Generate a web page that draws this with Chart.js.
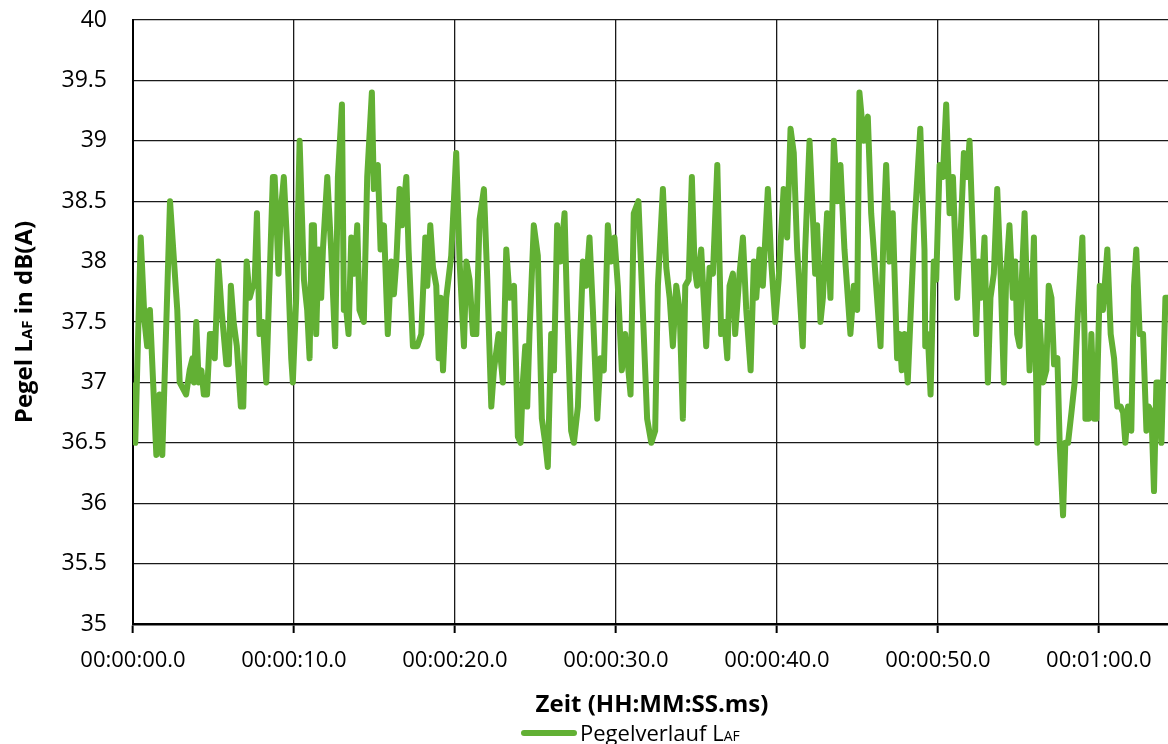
<!DOCTYPE html>
<html>
<head>
<meta charset="utf-8">
<script src="https://cdn.jsdelivr.net/npm/chart.js@4.4.1/dist/chart.umd.min.js"></script>
<style>
    html, body { margin: 0; padding: 0; background: #fff; }
    #wrap { width: 1168px; height: 744px; }
</style>
</head>
<body>
<div id="wrap"><canvas id="chart" width="1168" height="744"></canvas></div>
<script>
// --- Data ---
// time in seconds, level in dB(A)
const times = [
    0.00, 0.14, 0.48, 0.72, 0.88, 1.05, 1.45, 1.65, 1.82, 2.30,
    2.75, 2.90, 3.30, 3.52, 3.70, 3.79, 3.93, 4.08, 4.25, 4.40,
    4.60, 4.78, 4.98, 5.08, 5.30, 5.50, 5.80, 5.95, 6.08, 6.25,
    6.45, 6.70, 6.85, 7.06, 7.25, 7.45, 7.55, 7.70, 7.86, 8.07,
    8.28, 8.69, 8.80, 8.90, 9.04, 9.17, 9.37, 9.59, 9.83, 9.93,
    10.14, 10.35, 10.62, 10.82, 10.97, 11.11, 11.24, 11.38, 11.53, 11.69,
    11.80, 12.07, 12.31, 12.56, 12.73, 12.98, 13.10, 13.25, 13.39, 13.56,
    13.76, 13.93, 14.07, 14.34, 14.55, 14.84, 14.96, 15.21, 15.38, 15.59,
    15.83, 16.05, 16.21, 16.36, 16.56, 16.71, 16.98, 17.12, 17.39, 17.66,
    17.91, 18.16, 18.28, 18.47, 18.64, 18.84, 18.99, 19.11, 19.26, 19.46,
    19.77, 20.08, 20.29, 20.56, 20.71, 20.91, 21.12, 21.33, 21.53, 21.80,
    22.01, 22.26, 22.42, 22.71, 22.98, 23.19, 23.40, 23.67, 23.91, 24.08,
    24.22, 24.37, 24.49, 24.63, 24.90, 25.15, 25.40, 25.61, 25.77, 25.98,
    26.15, 26.35, 26.56, 26.81, 26.97, 27.22, 27.39, 27.64, 27.95, 28.15,
    28.36, 28.57, 28.84, 29.04, 29.25, 29.50, 29.71, 29.91, 30.12, 30.37,
    30.58, 30.91, 31.11, 31.40, 31.67, 31.94, 32.20, 32.44, 32.61, 32.92,
    33.13, 33.34, 33.54, 33.75, 33.96, 34.16, 34.31, 34.52, 34.72, 34.89,
    35.05, 35.30, 35.61, 35.82, 36.03, 36.30, 36.54, 36.75, 36.92, 37.06,
    37.27, 37.41, 37.68, 37.89, 38.10, 38.37, 38.57, 38.72, 38.93, 39.13,
    39.44, 39.65, 39.90, 40.11, 40.42, 40.64, 40.85, 41.05, 41.26, 41.61,
    41.76, 42.03, 42.23, 42.38, 42.50, 42.71, 42.86, 43.12, 43.33, 43.54,
    43.75, 43.95, 44.20, 44.57, 44.78, 44.99, 45.13, 45.40, 45.65, 45.86,
    46.17, 46.44, 46.64, 46.79, 47.00, 47.20, 47.47, 47.62, 47.76, 47.93,
    48.13, 48.55, 48.91, 49.17, 49.22, 49.38, 49.55, 49.75, 49.90, 50.11,
    50.31, 50.52, 50.73, 50.94, 51.20, 51.41, 51.62, 51.83, 51.97, 52.18,
    52.38, 52.53, 52.70, 52.90, 53.11, 53.27, 53.48, 53.69, 53.90, 54.10,
    54.25, 54.45, 54.66, 54.81, 54.93, 55.08, 55.22, 55.39, 55.55, 55.70,
    55.97, 56.17, 56.33, 56.54, 56.74, 56.89, 57.06, 57.22, 57.43, 57.57,
    57.78, 57.92, 58.09, 58.30, 58.50, 58.71, 58.98, 59.13, 59.17, 59.37,
    59.54, 59.71, 59.85, 60.06, 60.26, 60.53, 60.74, 60.95, 61.15, 61.36,
    61.51, 61.65, 61.82, 62.02, 62.19, 62.33, 62.54, 62.75, 62.96, 63.10,
    63.27, 63.43, 63.58, 63.72, 63.89, 64.14, 64.30
];

const levels = [
    37.0, 36.5, 38.2, 37.5, 37.3, 37.6, 36.4, 36.9, 36.4, 38.5,
    37.6, 37.0, 36.9, 37.1, 37.2, 37.0, 37.5, 37.0, 37.1, 36.9,
    36.9, 37.4, 37.4, 37.2, 38.0, 37.6, 37.15, 37.15, 37.8, 37.5,
    37.3, 36.8, 36.8, 38.0, 37.7, 37.8, 37.8, 38.4, 37.4, 37.5,
    37.0, 38.7, 38.7, 38.4, 37.9, 38.4, 38.7, 38.1, 37.2, 37.0,
    37.7, 39.0, 37.85, 37.6, 37.2, 38.3, 38.3, 37.4, 38.1, 37.7,
    38.1, 38.7, 38.1, 37.3, 38.7, 39.3, 37.6, 37.6, 37.4, 38.2,
    37.9, 38.3, 37.6, 37.5, 38.7, 39.4, 38.6, 38.8, 38.1, 38.3,
    37.4, 38.0, 37.73, 38.0, 38.6, 38.3, 38.7, 38.1, 37.3, 37.3,
    37.4, 38.2, 37.8, 38.3, 37.95, 37.8, 37.2, 37.7, 37.1, 37.7,
    38.05, 38.9, 38.0, 37.3, 38.0, 37.85, 37.4, 37.4, 38.35, 38.6,
    37.85, 36.8, 37.1, 37.4, 37.0, 38.1, 37.7, 37.8, 36.55, 36.5,
    37.0, 37.3, 36.8, 37.4, 38.3, 38.05, 36.7, 36.5, 36.3, 37.4,
    37.1, 38.3, 38.0, 38.4, 37.6, 36.6, 36.5, 36.8, 38.0, 37.8,
    38.2, 37.6, 36.7, 37.2, 37.1, 38.3, 38.0, 38.2, 37.8, 37.1,
    37.4, 36.9, 38.4, 38.5, 37.6, 36.7, 36.5, 36.6, 37.8, 38.6,
    37.95, 37.7, 37.3, 37.8, 37.6, 36.7, 37.8, 37.85, 38.7, 37.95,
    37.8, 38.1, 37.3, 37.95, 37.9, 38.8, 37.4, 37.5, 37.2, 37.8,
    37.9, 37.4, 37.9, 38.2, 37.6, 37.1, 38.0, 37.7, 38.1, 37.8,
    38.6, 38.0, 37.5, 37.85, 38.6, 38.2, 39.1, 38.9, 38.1, 37.3,
    38.1, 39.0, 38.4, 37.9, 38.3, 37.5, 37.7, 38.4, 37.7, 39.0,
    38.5, 38.8, 38.1, 37.4, 37.8, 37.6, 39.4, 39.0, 39.2, 38.4,
    37.8, 37.3, 38.3, 38.8, 38.0, 38.4, 37.2, 37.4, 37.1, 37.4,
    37.0, 38.3, 39.1, 38.1, 37.3, 37.4, 36.9, 38.0, 37.85, 38.8,
    38.7, 39.3, 38.4, 38.7, 37.7, 38.2, 38.9, 38.7, 39.0, 38.2,
    37.4, 38.0, 37.7, 38.2, 37.0, 37.7, 37.9, 38.6, 37.9, 37.0,
    37.9, 38.3, 37.7, 38.0, 37.4, 37.3, 37.85, 38.4, 37.7, 37.1,
    38.2, 36.5, 37.5, 37.0, 37.1, 37.8, 37.7, 37.15, 37.2, 36.5,
    35.9, 36.5, 36.5, 36.75, 37.0, 37.6, 38.2, 37.3, 36.7, 36.7,
    37.4, 36.7, 36.7, 37.8, 37.6, 38.1, 37.4, 37.2, 36.8, 36.8,
    36.75, 36.5, 36.8, 36.6, 37.8, 38.1, 37.4, 37.4, 36.6, 36.8,
    36.75, 36.1, 37.0, 37.0, 36.5, 37.7, 37.7
];

const xTickSeconds = [0, 10, 20, 30, 40, 50, 60];
const xMax = 64.3;
const yMin = 35, yMax = 40, yStep = 0.5;

const LINE_GREEN = '#62B034';
const FONT = "'Open Sans', sans-serif";

// --- Helpers ---
function pad2(n) {
    return String(n).padStart(2, '0');
}

function formatTime(sec) {
    const h = Math.floor(sec / 3600);
    const m = Math.floor((sec % 3600) / 60);
    const s = Math.floor(sec % 60);
    const tenth = Math.round((sec - Math.floor(sec)) * 10);
    return `${pad2(h)}:${pad2(m)}:${pad2(s)}.${tenth}`;
}

// draw "L" + small "AF" style text pieces, returns total width
function drawPieces(ctx, pieces, x, y, measureOnly) {
    let cx = x;
    pieces.forEach(p => {
        ctx.font = p.font;
        if (!measureOnly) ctx.fillText(p.text, cx, y);
        cx += ctx.measureText(p.text).width;
    });
    return cx - x;
}

// --- Titles and legend drawn by hand (mixed font sizes) ---
const labelsPlugin = {
    id: 'labels',
    afterDraw(chart) {
        const ctx = chart.ctx;
        const area = chart.chartArea;
        ctx.save();
        ctx.fillStyle = '#000';
        ctx.textBaseline = 'alphabetic';
        ctx.textAlign = 'left';

        // y axis title
        const yPieces = [
            { text: 'Pegel L', font: `bold 24px ${FONT}` },
            { text: 'AF', font: `bold 15px ${FONT}` },
            { text: ' in dB(A)', font: `bold 24px ${FONT}` }
        ];
        const yw = drawPieces(ctx, yPieces, 0, 0, true);
        ctx.translate(32, (area.top + area.bottom) / 2);
        ctx.rotate(-Math.PI / 2);
        drawPieces(ctx, yPieces, -yw / 2, 0, false);
        ctx.setTransform(1, 0, 0, 1, 0, 0);

        // x axis title
        ctx.font = `bold 24px ${FONT}`;
        ctx.textAlign = 'center';
        ctx.fillText('Zeit (HH:MM:SS.ms)', 652, 712);

        // legend
        ctx.strokeStyle = LINE_GREEN;
        ctx.lineWidth = 6;
        ctx.lineCap = 'round';
        ctx.beginPath();
        ctx.moveTo(524, 733);
        ctx.lineTo(574, 733);
        ctx.stroke();
        ctx.textAlign = 'left';
        drawPieces(ctx, [
            { text: 'Pegelverlauf L', font: `22px ${FONT}` },
            { text: 'AF', font: `14px ${FONT}` }
        ], 580, 741, false);
        ctx.restore();
    }
};

// --- Chart ---
const points = times.map((t, i) => ({ x: t, y: levels[i] }));

new Chart(document.getElementById('chart'), {
    type: 'line',
    data: {
        datasets: [{
            label: 'Pegelverlauf LAF',
            data: points,
            borderColor: LINE_GREEN,
            borderWidth: 6,
            pointRadius: 0,
            tension: 0,
            borderJoinStyle: 'round',
            fill: false
        }]
    },
    options: {
        responsive: false,
        animation: false,
        devicePixelRatio: 1,
        layout: { padding: { top: 20, right: 0, left: 0, bottom: 0 } },
        plugins: {
            legend: { display: false },
            tooltip: { enabled: false }
        },
        scales: {
            x: {
                type: 'linear',
                min: 0,
                max: xMax,
                afterBuildTicks: scale => {
                    scale.ticks = xTickSeconds.map(v => ({ value: v }));
                },
                afterFit: scale => { scale.height = 120; },
                grid: {
                    color: '#1a1a1a',
                    lineWidth: 1.3,
                    drawTicks: true,
                    tickLength: 9,
                    tickColor: '#000',
                    tickWidth: 2
                },
                border: { display: true, color: '#000', width: 2.5 },
                ticks: {
                    color: '#000',
                    font: { family: FONT, size: 22 },
                    padding: 15,
                    maxRotation: 0,
                    autoSkip: false,
                    callback: v => formatTime(v)
                }
            },
            y: {
                min: yMin,
                max: yMax,
                afterFit: scale => {
                    scale.width = 133;
                    // tick padding would otherwise push the plot top down
                    scale.paddingTop = 0;
                    scale.paddingBottom = 0;
                },
                grid: {
                    color: '#1a1a1a',
                    lineWidth: 1.3,
                    drawTicks: false
                },
                border: { display: true, color: '#000', width: 2 },
                ticks: {
                    stepSize: yStep,
                    color: '#000',
                    font: { family: FONT, size: 23 },
                    padding: 26,
                    callback: v => String(v)
                }
            }
        }
    },
    plugins: [labelsPlugin]
});
</script>
</body>
</html>
